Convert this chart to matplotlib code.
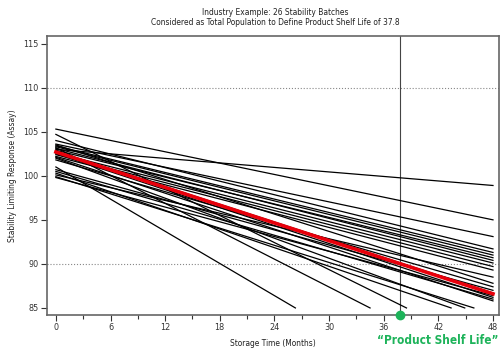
import matplotlib
matplotlib.use("Agg")
import matplotlib.pyplot as plt

plt.rcParams['font.family'] = ['DejaVu Sans']
plt.rcParams['font.stretch'] = 'condensed'

# batch lines: value at month 0, month where the line stops, value there
batch_start = [101.0, 103.2, 104.7, 100.3, 102.0, 99.9,
               103.0, 105.3, 103.6, 104.0, 103.4, 103.3, 102.9, 103.1,
               102.6, 102.4, 102.2, 100.1, 103.5, 101.8, 100.7, 102.8,
               99.8, 102.5, 100.5, 102.1]
batch_end_month = [26.3, 34.5, 38.5, 43.4, 44.9, 45.9] + [48] * 20
batch_end_value = [85, 85, 85, 85, 85, 85,
                   98.9, 95.0, 93.1, 91.7, 91.3, 91.0, 90.7, 90.4,
                   90.1, 89.7, 89.3, 88.5, 87.8, 87.4, 87.0, 86.7,
                   86.4, 86.2, 86.0, 85.8]

mean_months = [0, 48]
mean_values = [102.7, 86.6]
shelf_life = 37.8
spec_limits = [110, 90]

x_ticks = [0, 6, 12, 18, 24, 30, 36, 42, 48]
y_ticks = [85, 90, 95, 100, 105, 110, 115]

fig = plt.figure(figsize=(5.01, 3.5), dpi=100)
ax = fig.add_axes([0.093, 0.1, 0.903, 0.798])

for s, m, e in zip(batch_start, batch_end_month, batch_end_value):
    ax.plot([0, m], [s, e], color='black', lw=0.9)

ax.plot(mean_months, mean_values, color='#e8000b', lw=2.6, zorder=5)

for lim in spec_limits:
    ax.axhline(lim, color='#888888', lw=0.8, ls=':', zorder=0)
ax.axvline(shelf_life, color='#444444', lw=0.8, zorder=1)

ax.set_xlim(-1.02, 48.66)
ax.set_ylim(84.2, 115.9)
ax.plot([shelf_life], [84.2], 'o', color='#1db35a', ms=6, clip_on=False, zorder=10)

ax.set_xticks(x_ticks)
ax.set_xticks(range(0, 49, 3), minor=True)
ax.set_yticks(y_ticks)
ax.tick_params(axis='both', labelsize=6.5, colors='#333333', length=4, width=0.8, pad=2)
ax.tick_params(axis='x', which='minor', length=3, width=0.8, colors='#333333')
for sp in ax.spines.values():
    sp.set_color('#666666')
    sp.set_linewidth(1.2)

ax.set_xlabel('Storage Time (Months)', fontsize=6, color='#222222', labelpad=5)
ax.set_ylabel('Stability Limiting Response (Assay)', fontsize=6, color='#222222', labelpad=4)

fig.text(0.55, 0.965, 'Industry Example: 26 Stability Batches', ha='center',
         va='center', fontsize=6, color='#222222')
fig.text(0.55, 0.936, 'Considered as Total Population to Define Product Shelf Life of 37.8',
         ha='center', va='center', fontsize=6, color='#222222')
fig.text(0.996, 0.026, '\u201cProduct Shelf Life\u201d', ha='right', va='center',
         fontsize=8.5, fontweight='bold', color='#1db35a')

fig.savefig('out.png', dpi=100)
